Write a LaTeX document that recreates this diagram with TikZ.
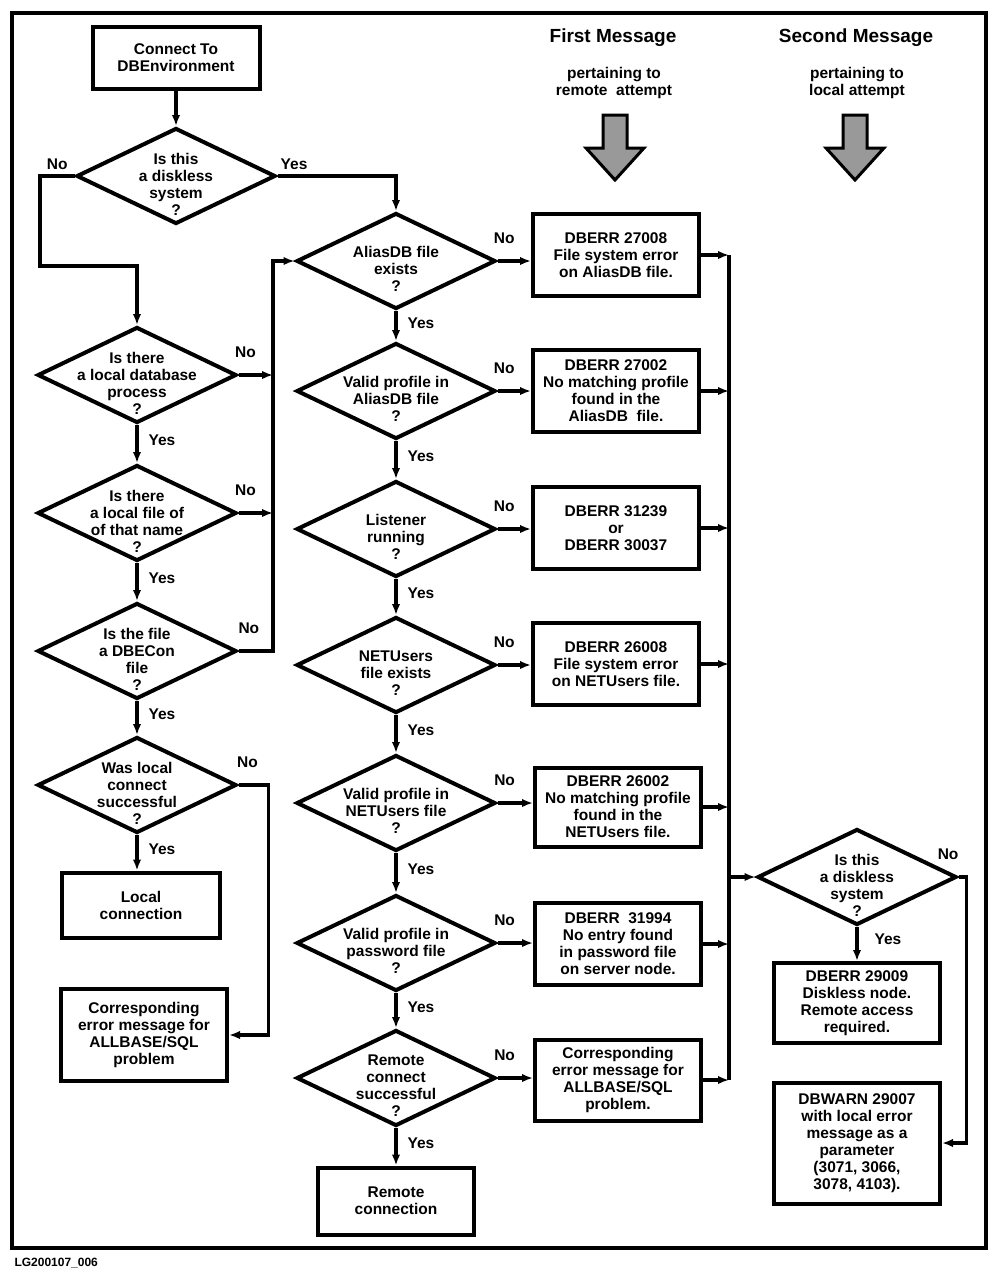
\documentclass[tikz,border=0pt]{standalone}
\usepackage{fontspec}
\setmainfont{Liberation Sans}
\usetikzlibrary{arrows.meta,shapes.geometric}

\begin{document}
\begin{tikzpicture}[
  x=1pt, y=-1pt,
  font=\fontsize{15.5}{17}\selectfont\bfseries,
  procbox/.style={rectangle, draw, line width=4pt, align=center, inner sep=2pt,
    minimum width=166pt, minimum height=#1},
  procbox/.default=82pt,
  decision/.style={diamond, draw, line width=4pt, minimum width=199pt,
    minimum height=96pt, inner sep=0pt, label={[qtext]center:{#1}}},
  qtext/.style={align=center, yshift=-8pt},
  line/.style={line width=3.2pt},
  arr/.style={line, -{Latex[length=11pt,width=8.5pt]}},
  yes/.style={right=9pt, pos=0.4, inner sep=1pt},
  no/.style={above=15pt, pos=0.2, inner sep=1pt},
  fatarrow/.style={draw, line width=3pt, fill=black!40, line join=miter},
  header/.style={font=\fontsize{19}{22}\selectfont\bfseries}
]
\useasboundingbox (0,0) rectangle (1001,1278);

% Frame and figure id
\draw[line] (12,13) rectangle (986,1248);
\node[font=\fontsize{12}{14}\selectfont\bfseries, anchor=west] (figid) at (11,1263) {LG200107\_006};

% Column headers
\node[header] (hfirst) at (613,38) {First Message};
\node[header] (hsecond) at (856,38) {Second Message};
\node[align=center] (sfirst) at (614,83) {pertaining to\\remote\ \ attempt};
\node[align=center] (ssecond) at (857,83) {pertaining to\\local attempt};
\foreach \cx in {615,855}
  \draw[fatarrow] (\cx-12,115) -- (\cx+12,115) -- (\cx+12,148) -- (\cx+29,148)
    -- (\cx,180) -- (\cx-29,148) -- (\cx-12,148) -- cycle;

% Start
\node[procbox=62pt, minimum width=167pt] (start) at (176,58) {Connect To\\DBEnvironment};
\node[decision={Is this\\a diskless\\system\\?}] (dless) at (176,176) {};

% Left column: local attempt
\node[decision={Is there\\a local database\\process\\?}] (ldb) at (137,375) {};
\node[decision={Is there\\a local file of\\of that name\\?}] (lfile) at (137,513) {};
\node[decision={Is the file\\a DBECon\\file\\?}] (dbecon) at (137,651) {};
\node[decision={Was local\\connect\\successful\\?}] (lconn) at (137,785) {};
\node[procbox=65pt, minimum width=158pt] (lok) at (141,905) {Local\\connection};
\node[procbox=92pt] (elocal) at (144,1035) {Corresponding\\error message for\\ALLBASE/SQL\\problem};

% Middle column: remote attempt
\node[decision={AliasDB file\\exists\\?}] (alias) at (396,261) {};
\node[decision={Valid profile in\\AliasDB file\\?}] (aprof) at (396,391) {};
\node[decision={Listener\\running\\?}] (listen) at (396,529) {};
\node[decision={NETUsers\\file exists\\?}] (netu) at (396,665) {};
\node[decision={Valid profile in\\NETUsers file\\?}] (nprof) at (396,803) {};
\node[decision={Valid profile in\\password file\\?}] (pwd) at (396,943) {};
\node[decision={Remote\\connect\\successful\\?}] (rconn) at (396,1078) {};
\node[procbox=67pt, minimum width=156pt] (rok) at (396,1201) {Remote\\connection};

% First messages
\node[procbox] (e27008) at (616,255) {DBERR 27008\\File system error\\on AliasDB file.};
\node[procbox] (e27002) at (616,391) {DBERR 27002\\No matching profile\\found in the\\AliasDB\ \ file.};
\node[procbox] (e31239) at (616,528) {DBERR 31239\\or\\DBERR 30037};
\node[procbox] (e26008) at (616,664) {DBERR 26008\\File system error\\on NETUsers file.};
\node[procbox=79pt] (e26002) at (618,807) {DBERR 26002\\No matching profile\\found in the\\NETUsers file.};
\node[procbox] (e31994) at (618,944) {DBERR\ \ 31994\\No entry found\\in password file\\on server node.};
\node[procbox=81pt] (eremote) at (618,1080) {Corresponding\\error message for\\ALLBASE/SQL\\problem.};

% Second messages
\node[decision={Is this\\a diskless\\system\\?}] (dless2) at (857,877) {};
\node[procbox=80pt] (e29009) at (857,1003) {DBERR 29009\\Diskless node.\\Remote access\\required.};
\node[procbox=121pt] (w29007) at (857,1143) {DBWARN 29007\\with local error\\message as a\\parameter\\(3071, 3066,\\3078, 4103).};

% Collector lines
\coordinate (lbend) at (40,266);
\coordinate (ljoin) at (273,261);
\coordinate (rtop) at (729,255);
\coordinate (rbot) at (729,1080);

% Top decision
\draw[arr] (start.south) -- (dless.north);
\draw[arr] (dless.west) -| node[pos=0.25, above=4pt, inner sep=1pt] {No} (lbend) -| (ldb.north);
\draw[arr] (dless.east) -| node[pos=0.07, above=4pt, inner sep=1pt] {Yes} (alias.north);

% Left column
\draw[arr] (ldb.south) -- node[yes] {Yes} (lfile.north);
\draw[arr] (lfile.south) -- node[yes] {Yes} (dbecon.north);
\draw[arr] (dbecon.south) -- node[yes] {Yes} (lconn.north);
\draw[arr] (lconn.south) -- node[yes] {Yes} (lconn.south |- lok.north);
\draw[arr] (ldb.east) -- node[no] {No} (ldb.east -| ljoin);
\draw[arr] (lfile.east) -- node[no] {No} (lfile.east -| ljoin);
\draw[arr] (dbecon.east) -| node[no, pos=0.15] {No} (ljoin) -- (alias.west);
\draw[arr] (lconn.east) -- node[no, pos=0.3] {No} ++(30,0) |- (elocal.east);

% Middle column
\draw[arr] (alias.south) -- node[yes] {Yes} (aprof.north);
\draw[arr] (aprof.south) -- node[yes] {Yes} (listen.north);
\draw[arr] (listen.south) -- node[yes] {Yes} (netu.north);
\draw[arr] (netu.south) -- node[yes] {Yes} (nprof.north);
\draw[arr] (nprof.south) -- node[yes] {Yes} (pwd.north);
\draw[arr] (pwd.south) -- node[yes] {Yes} (rconn.north);
\draw[arr] (rconn.south) -- node[yes] {Yes} (rok.north);

% No branches to first messages
\draw[arr] (alias.east) -- node[no] {No} (alias.east -| e27008.west);
\draw[arr] (aprof.east) -- node[no] {No} (aprof.east -| e27002.west);
\draw[arr] (listen.east) -- node[no] {No} (listen.east -| e31239.west);
\draw[arr] (netu.east) -- node[no] {No} (netu.east -| e26008.west);
\draw[arr] (nprof.east) -- node[no] {No} (nprof.east -| e26002.west);
\draw[arr] (pwd.east) -- node[no] {No} (pwd.east -| e31994.west);
\draw[arr] (rconn.east) -- node[no] {No} (rconn.east -| eremote.west);

% First messages into collector
\draw[line] (rtop) -- (rbot);
\draw[arr] (e27008.east) -- (e27008.east -| rtop);
\draw[arr] (e27002.east) -- (e27002.east -| rtop);
\draw[arr] (e31239.east) -- (e31239.east -| rtop);
\draw[arr] (e26008.east) -- (e26008.east -| rtop);
\draw[arr] (e26002.east) -- (e26002.east -| rtop);
\draw[arr] (e31994.east) -- (e31994.east -| rtop);
\draw[arr] (eremote.east) -- (eremote.east -| rtop);

% Second decision
\draw[arr] (dless2.west -| rtop) -- (dless2.west);
\draw[arr] (dless2.south) -- node[yes, pos=0.35, right=6pt] {Yes} (e29009.north);
\draw[arr] (dless2.east) -- node[no, xshift=-12pt] {No} ++(8,0) |- (w29007.east);

\end{tikzpicture}
\end{document}
